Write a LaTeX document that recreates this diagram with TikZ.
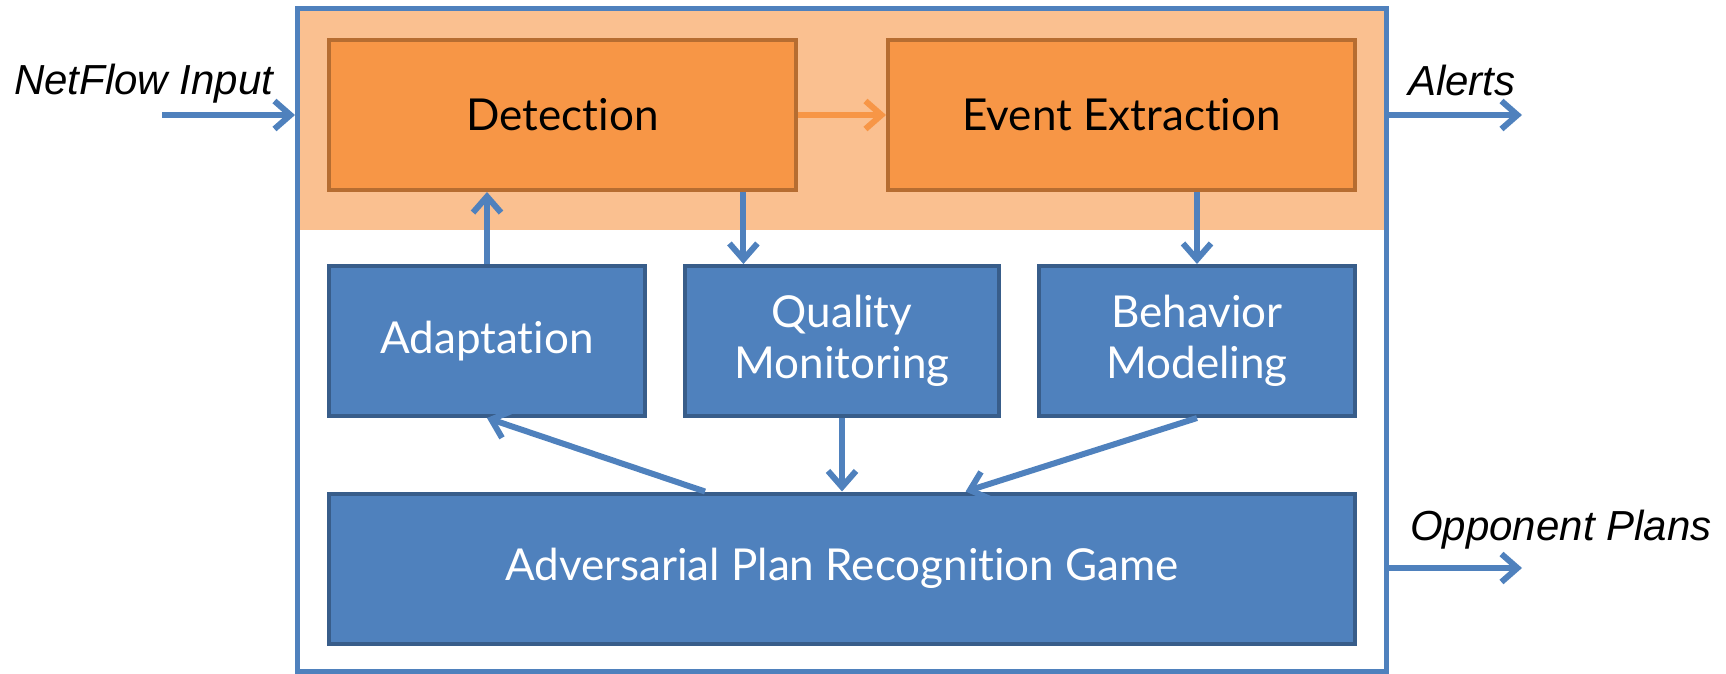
\documentclass[tikz,border=0pt]{standalone}
\usepackage{fontspec}
\setmainfont{Lato}[Ligatures=NoCommon]
\newfontfamily\arialfont{Liberation Sans}
\usetikzlibrary{arrows.meta,calc}
\definecolor{boxblue}{HTML}{4F81BD}
\definecolor{boxblueline}{HTML}{385D8A}
\definecolor{boxorange}{HTML}{F79646}
\definecolor{boxorangeline}{HTML}{B66D31}
\definecolor{bandorange}{HTML}{FAC090}
\begin{document}
\begin{tikzpicture}[x=1pt,y=-1pt]
\tikzstyle{blk}=[rectangle,draw=boxblueline,fill=boxblue,line width=4pt,text=white,align=center,font=\fontsize{44}{51}\selectfont,minimum height=150pt,inner sep=0pt]
\tikzstyle{oblk}=[blk,draw=boxorangeline,fill=boxorange,text=black]
\tikzstyle{flow}=[line width=6pt,draw=boxblue,-{Straight Barb[length=16pt,width=28pt]}]
\tikzstyle{lbl}=[font=\arialfont\itshape\fontsize{42}{50}\selectfont,inner sep=0pt,anchor=base west]
\useasboundingbox (0,0) rectangle (1726,673);
% band and frame
\fill[bandorange] (297.5,8.5) rectangle (1386,230);
\node[draw=boxblue,line width=5pt,minimum width=1088.5pt,minimum height=662.5pt,inner sep=0pt] (sys) at (841.75,339.75) {};
\node[oblk,minimum width=467pt] (det) at (562.5,115) {Detection};
\node[oblk,minimum width=467pt] (evt) at (1121.5,115) {Event Extraction};
\foreach \name/\point/\bw/\txt in {
	adapt/{487,341}/316/Adaptation,
	qual/{842,341}/314/{Quality\\Monitoring},
	beh/{1197,341}/316/{Behavior\\Modeling},
	game/{842,568.5}/1026/{Adversarial Plan Recognition Game}}
	\node[blk,minimum width=\bw pt] (\name) at (\point) {\txt};
\node[lbl] (inlbl) at (14,94) {NetFlow Input};
\node[lbl] (alrt) at (1408,95) {Alerts};
\node[lbl] (opp) at (1410,540) {Opponent Plans};
\coordinate (inpt) at (162,115);
\coordinate (alrtend) at (1522,115);
\coordinate (oppend) at (1522,568);
\coordinate (dq) at ($(qual.north west)!0.19!(qual.north east)$);
\draw[flow] (inpt) -- (inpt -| sys.west);
\draw[flow] (alrtend -| sys.east) -- (alrtend);
\draw[flow] (oppend -| sys.east) -- (oppend);
\draw[flow,draw=boxorange] (det.east) -- (evt.west);
\draw[flow] (adapt.north) -- (adapt.north |- det.south);
\draw[flow] (dq |- det.south) -- (dq);
\draw[flow] (beh.north |- evt.south) -- (beh.north);
\draw[flow] (qual.south) -- (game.north);
\draw[flow] ($(game.north west)!0.367!(game.north east)$) -- (adapt.south);
\draw[flow] (beh.south) -- ($(game.north west)!0.62!(game.north east)$);
\end{tikzpicture}
\end{document}
